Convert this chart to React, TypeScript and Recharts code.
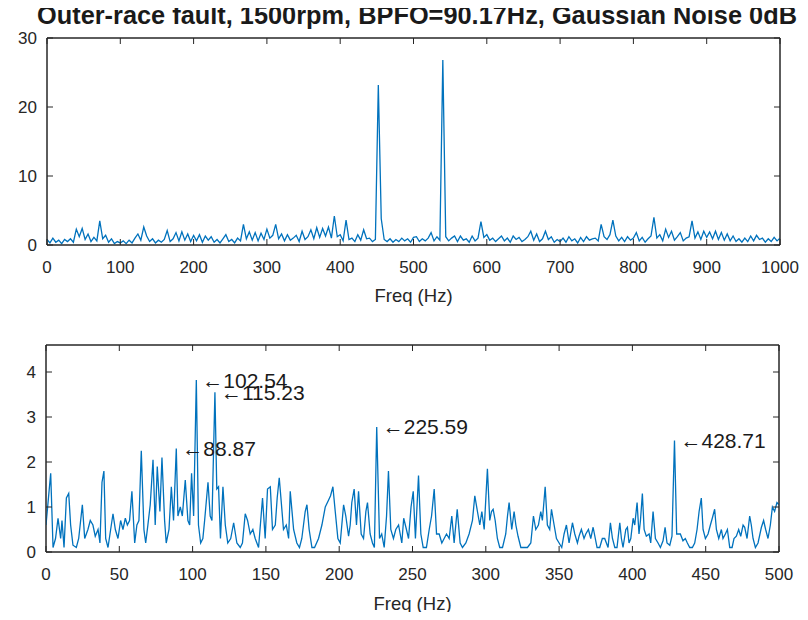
import React from 'react';
import { LineChart, Line, XAxis, YAxis, ReferenceDot, ReferenceArea, Label } from 'recharts';

const AXIS = '#262626';
const LINE = '#0072BD';
const FONT = '"Liberation Sans", Arial, sans-serif';

// top panel: full band spectrum, one value every 4 Hz (0..1000)
const topStep = 4;
const topAmp = [
  0.8, 0.3, 1.0, 0.4, 0.7, 0.2, 0.8, 0.5, 0.9, 0.4,
  2.3, 1.2, 2.4, 0.8, 1.6, 0.5, 1.1, 0.6, 3.5, 0.9,
  1.4, 0.4, 0.9, 0.2, 0.5, 0.3, 0.6, 0.2, 0.7, 0.3,
  1.0, 1.6, 0.7, 2.6, 1.3, 0.5, 0.9, 0.3, 0.7, 0.4,
  0.8, 2.1, 0.5, 0.9, 1.8, 0.6, 1.9, 0.7, 1.6, 0.5,
  1.4, 0.6, 1.5, 0.4, 1.3, 0.7, 1.2, 0.4, 0.8, 0.3,
  0.9, 1.5, 0.5, 0.8, 0.3, 1.0, 0.6, 3.0, 0.9, 1.9,
  0.7, 1.8, 0.6, 1.7, 0.8, 2.3, 1.0, 1.4, 3.0, 0.9,
  1.6, 0.6, 1.5, 0.7, 1.0, 1.4, 0.5, 2.0, 0.8, 1.2,
  2.2, 0.9, 2.5, 1.1, 2.4, 1.3, 2.6, 1.0, 4.2, 1.2,
  1.5, 0.6, 3.6, 0.8, 1.0, 0.5, 1.5, 0.7, 2.2, 0.9,
  1.0, 0.5, 0.8, 23.2, 3.8, 0.8, 0.5, 0.9, 0.4, 0.8,
  0.5, 1.0, 0.6, 0.9, 0.4, 1.1, 1.2, 0.5, 0.9, 0.6,
  1.0, 1.8, 0.6, 1.2, 0.7, 26.8, 1.2, 0.6, 1.0, 1.3,
  0.5, 1.3, 0.7, 0.9, 0.4, 1.3, 0.6, 1.0, 3.4, 1.1,
  1.5, 0.7, 1.0, 0.5, 0.9, 1.3, 0.6, 1.0, 0.4, 1.3,
  0.8, 1.1, 0.5, 0.8, 1.2, 2.0, 0.7, 1.6, 0.5, 0.9,
  2.0, 0.8, 1.2, 0.4, 0.8, 0.5, 1.0, 0.4, 1.2, 0.6,
  0.9, 0.3, 1.1, 0.5, 1.2, 0.7, 0.9, 1.0, 0.6, 3.0,
  1.2, 0.8, 1.5, 3.6, 1.3, 0.6, 1.1, 0.5, 1.2, 0.7,
  1.0, 1.8, 0.6, 1.1, 0.4, 0.9, 1.3, 4.0, 1.0, 1.5,
  0.6, 2.3, 1.1, 2.0, 0.7, 1.2, 1.8, 0.6, 1.0, 1.2,
  3.5, 1.0, 1.9, 0.8, 2.0, 1.1, 1.9, 0.9, 2.0, 0.8,
  1.8, 0.7, 1.6, 0.6, 1.3, 0.5, 0.9, 0.4, 1.0, 0.5,
  1.3, 0.6, 1.4, 0.8, 1.0, 0.4, 0.9, 0.5, 1.1, 0.6,
  1.0,
];
const topXTicks = [0, 100, 200, 300, 400, 500, 600, 700, 800, 900, 1000];
const topYTicks = [0, 10, 20, 30];

// bottom panel: 0..500 Hz zoom
const zoomFreq = [
  0, 3.2, 4.8, 6.5, 8.2, 10, 10.9, 12.3, 13.9, 15.5, 16.8, 18.4, 20.7, 22.3, 24.8, 26.4, 28.6, 30.2, 32, 33.6,
  35.5, 36.8, 38.2, 39.5, 40.7, 42.3, 44.1, 45.7, 47.3, 49.1, 50.9, 52.5, 54.1, 55.5, 57, 58.6, 60.5, 62, 63.4, 65,
  66.8, 68, 69.5, 71.1, 73, 74.5, 75.9, 77.7, 79.1, 80.9, 82, 83.9, 85.5, 87, 88.87, 90, 91.6, 93, 95, 96.8,
  98, 99.3, 100.7, 102.54, 104, 105.5, 107, 108.2, 110.5, 112, 113.2, 115.23, 116.5, 117.7, 119, 120.7, 122.3, 124, 126, 128,
  130.2, 132.5, 134, 135.9, 137.5, 139.3, 141.1, 142.7, 145, 147.7, 149.5, 151.1, 153, 154.5, 156.4, 157.7, 159.1, 160.5, 162, 163.9,
  165.5, 166.6, 168.9, 171.1, 172.9, 174.5, 176.8, 178, 179.5, 181.4, 183.2, 185.9, 188.2, 190.5, 192.7, 194.1, 195.7, 197.3, 199.1, 200.7,
  203, 204.5, 206.4, 207.5, 208.6, 210.2, 211.8, 213.2, 215, 216.6, 218.2, 219.3, 221.1, 222.7, 224, 225.59, 227.5, 229, 230.7, 232.3,
  233.6, 235.2, 237, 238.6, 240.5, 242.7, 244, 245.5, 247.3, 249, 250.5, 252, 254.1, 255.7, 257.3, 259.5, 261.4, 263, 264.8, 266.4,
  268.2, 270, 271.6, 273.2, 275, 276.8, 278.4, 280.5, 282.5, 284.1, 286.4, 288.6, 290.9, 292.5, 294.3, 295.9, 297.3, 298.9, 301.1, 302.7,
  303.9, 305, 306.4, 307.9, 309.5, 311.4, 313.6, 314.8, 315.9, 317.7, 319.3, 320.5, 322, 323.9, 326.1, 328.4, 330.7, 332.5, 334.1, 335.9,
  337.5, 338.6, 340.5, 342, 343.6, 344.8, 346.6, 348.2, 350, 351.8, 353.4, 355, 356.8, 359.1, 360.7, 362.5, 363.6, 365.2, 367, 368.2,
  370, 371.6, 373.2, 375.9, 377.7, 379.5, 381.1, 383.4, 385, 386.4, 388, 389.5, 391.4, 392.5, 393.6, 395.5, 396.6, 397.7, 398.9, 400.5,
  401.6, 403.2, 404.5, 405.5, 406.8, 408, 409.5, 411.4, 412.5, 414.1, 415.7, 417.5, 419.1, 420.9, 422.3, 423.6, 425.5, 427, 428.71, 430.2,
  432.7, 434.5, 436.1, 437.5, 439.1, 440.9, 442.5, 444.1, 445.5, 447, 448.2, 449.8, 451.6, 453.2, 454.5, 456.1, 457.3, 458.9, 460.7, 461.8,
  463.4, 464.8, 466.4, 468, 469.3, 470.9, 472.5, 473.9, 475.5, 476.6, 478.2, 480, 481.1, 482.3, 483.9, 485.7, 488, 489.5, 490.9, 492.5,
  494.1, 495.5, 497, 498.6, 500,
];
const zoomAmp = [
  0.6, 1.75, 0.1, 0.3, 0.75, 0.3, 0.7, 0.1, 1.2, 1.3, 0.6, 0.15, 0.1, 0.3, 1.05, 0.3, 0.5, 0.7, 0.6, 0.35,
  0.5, 0.2, 1.55, 1.8, 0.3, 0.1, 0.5, 0.85, 0.5, 0.3, 0.7, 0.5, 0.75, 0.6, 0.7, 1.35, 0.2, 0.6, 0.7, 2.25,
  0.5, 0.2, 0.6, 1.05, 2.05, 0.6, 1.9, 0.9, 2.1, 0.7, 0.2, 0.5, 1.45, 0.7, 2.3, 0.8, 1.0, 0.8, 1.6, 0.7,
  0.6, 1.75, 0.8, 3.82, 0.6, 0.2, 0.3, 0.7, 1.55, 0.8, 0.7, 3.55, 1.4, 1.45, 0.3, 1.45, 0.6, 0.2, 0.3, 0.65,
  0.2, 0.1, 0.2, 0.85, 0.7, 0.4, 0.5, 0.3, 0.1, 1.2, 0.3, 1.4, 1.45, 0.5, 0.6, 1.2, 1.65, 1.1, 0.5, 0.6,
  0.3, 1.35, 0.5, 0.2, 0.1, 0.3, 0.9, 1.05, 0.5, 0.1, 0.1, 0.3, 0.6, 1.0, 1.15, 1.25, 1.45, 0.9, 0.3, 0.2,
  1.05, 0.8, 0.35, 0.6, 1.1, 1.4, 0.6, 1.35, 0.4, 0.3, 0.9, 1.1, 0.4, 0.2, 0.1, 2.78, 0.3, 0.4, 0.1, 0.8,
  1.8, 0.5, 0.3, 0.5, 0.6, 0.2, 0.75, 0.55, 0.3, 1.0, 1.35, 0.3, 1.7, 0.4, 0.1, 0.1, 0.5, 0.8, 1.4, 0.4,
  0.4, 0.2, 0.3, 0.4, 0.3, 0.8, 0.2, 0.95, 0.2, 0.1, 0.2, 0.4, 0.7, 1.25, 0.9, 0.6, 0.9, 0.5, 1.85, 0.7,
  0.9, 0.95, 0.7, 0.3, 0.1, 0.1, 0.4, 0.8, 1.1, 0.5, 0.9, 0.6, 0.35, 0.1, 0.1, 0.1, 0.2, 0.8, 0.5, 0.6,
  0.9, 0.7, 1.45, 0.6, 0.5, 0.95, 0.6, 0.3, 0.2, 0.1, 0.4, 0.6, 0.2, 0.65, 0.4, 0.2, 0.35, 0.5, 0.3, 0.4,
  0.5, 0.3, 0.55, 0.1, 0.1, 0.3, 0.3, 0.1, 0.65, 0.3, 0.1, 0.1, 0.65, 0.3, 0.1, 0.5, 0.55, 0.2, 0.3, 0.75,
  0.6, 1.1, 0.4, 0.7, 1.3, 0.5, 0.35, 0.4, 0.2, 0.9, 0.3, 0.2, 0.1, 0.25, 0.55, 0.2, 0.15, 0.35, 2.48, 0.4,
  0.4, 0.25, 0.3, 0.2, 0.1, 0.1, 0.2, 0.5, 0.9, 1.2, 0.5, 0.3, 0.4, 0.6, 0.75, 0.95, 0.5, 0.3, 0.5, 0.3,
  0.4, 0.5, 0.1, 0.1, 0.3, 0.35, 0.5, 0.35, 0.6, 0.55, 0.3, 0.8, 0.6, 0.3, 0.1, 0.2, 0.55, 0.7, 0.5, 0.3,
  0.6, 1.0, 0.9, 1.1, 1.05,
];
const zoomXTicks = [0, 50, 100, 150, 200, 250, 300, 350, 400, 450, 500];
const zoomYTicks = [0, 1, 2, 3, 4];

// marked peaks in the zoom panel
const peakFreq = [88.87, 102.54, 115.23, 225.59, 428.71];
const peakAmp = [2.3, 3.82, 3.55, 2.78, 2.48];

const topData = topAmp.map((a, i) => ({ f: i * topStep, a }));
const zoomData = zoomFreq.map((f, i) => ({ f, a: zoomAmp[i] }));

type PanelProps = {
  data: Array<{ f: number; a: number }>;
  xDomain: [number, number];
  xTicks: number[];
  yDomain: [number, number];
  yTicks: number[];
  marginTop: number;
  marginRight: number;
  yWidth: number;
  xHeight: number;
  labelOffset: number;
  peaks?: boolean;
};

const tickStyle = { fill: AXIS, fontSize: 17, fontFamily: FONT };
const blank = () => '';

const Panel: React.FC<PanelProps> = ({
  data, xDomain, xTicks, yDomain, yTicks, marginTop, marginRight, yWidth, xHeight, labelOffset, peaks,
}) => (
  <LineChart
    width={808}
    height={310}
    data={data}
    margin={{ top: marginTop, right: marginRight, bottom: 0, left: 0 }}
  >
    <XAxis
      xAxisId="b"
      dataKey="f"
      type="number"
      domain={xDomain}
      ticks={xTicks}
      interval={0}
      allowDataOverflow
      height={xHeight}
      tickSize={-6}
      tickMargin={22}
      stroke={AXIS}
      tick={tickStyle}
    >
      <Label value="Freq (Hz)" position="insideBottom" offset={labelOffset} fill={AXIS} fontSize={18.5} fontFamily={FONT} />
    </XAxis>
    <XAxis
      xAxisId="t"
      orientation="top"
      dataKey="f"
      type="number"
      domain={xDomain}
      ticks={xTicks}
      interval={0}
      allowDataOverflow
      height={1}
      tickSize={-6}
      tickFormatter={blank}
      stroke={AXIS}
    />
    <YAxis
      yAxisId="l"
      type="number"
      domain={yDomain}
      ticks={yTicks}
      interval={0}
      allowDataOverflow
      width={yWidth}
      tickSize={-6}
      tickMargin={16}
      stroke={AXIS}
      tick={tickStyle}
    />
    <YAxis
      yAxisId="r"
      orientation="right"
      type="number"
      domain={yDomain}
      ticks={yTicks}
      interval={0}
      allowDataOverflow
      width={1}
      tickSize={-6}
      tickFormatter={blank}
      stroke={AXIS}
    />
    {/* plot box, like MATLAB's "box on" */}
    <ReferenceArea
      xAxisId="b"
      yAxisId="l"
      x1={xDomain[0]}
      x2={xDomain[1]}
      y1={yDomain[0]}
      y2={yDomain[1]}
      fill="none"
      stroke={AXIS}
      strokeWidth={1}
      ifOverflow="visible"
    />
    {/* invisible twin so the mirrored top/right axes get drawn */}
    <Line
      xAxisId="t"
      yAxisId="r"
      dataKey="a"
      stroke="none"
      dot={false}
      activeDot={false}
      isAnimationActive={false}
    />
    <Line
      xAxisId="b"
      yAxisId="l"
      type="linear"
      dataKey="a"
      stroke={LINE}
      strokeWidth={1.3}
      dot={false}
      isAnimationActive={false}
    />
    {peaks &&
      peakFreq.map((f, i) => (
        <ReferenceDot
          key={f}
          xAxisId="b"
          yAxisId="l"
          x={f}
          y={peakAmp[i]}
          r={0}
          fill="none"
          stroke="none"
          ifOverflow="visible"
          label={{
            value: `\u2190${f.toFixed(2)}`,
            position: 'right',
            offset: 6,
            fill: '#1a1a1a',
            fontSize: 21,
            fontFamily: FONT,
          }}
        />
      ))}
  </LineChart>
);

export default function App() {
  return (
    <div style={{ position: 'relative', width: 808, height: 620, margin: -8, background: '#fff', overflow: 'hidden' }}>
      <div style={{ position: 'absolute', left: 0, top: 0 }}>
        <Panel
          data={topData}
          xDomain={[0, 1000]}
          xTicks={topXTicks}
          yDomain={[0, 30]}
          yTicks={topYTicks}
          marginTop={37}
          marginRight={27}
          yWidth={47}
          xHeight={65}
          labelOffset={8}
        />
      </div>
      <div style={{ position: 'absolute', left: 0, top: 310 }}>
        <Panel
          data={zoomData}
          xDomain={[0, 500]}
          xTicks={zoomXTicks}
          yDomain={[0, 4.6]}
          yTicks={zoomYTicks}
          marginTop={34}
          marginRight={28}
          yWidth={46}
          xHeight={68}
          labelOffset={10}
          peaks
        />
      </div>
      <svg width={808} height={34} style={{ position: 'absolute', left: 0, top: 0, zIndex: 2 }}>
        <text
          x={417}
          y={24}
          textAnchor="middle"
          textLength={760}
          lengthAdjust="spacingAndGlyphs"
          fontFamily={FONT}
          fontWeight="bold"
          fontSize={25}
          fill="#1a1a1a"
        >
          Outer-race fault, 1500rpm, BPFO=90.17Hz, Gaussian Noise 0dB
        </text>
      </svg>
    </div>
  );
}
